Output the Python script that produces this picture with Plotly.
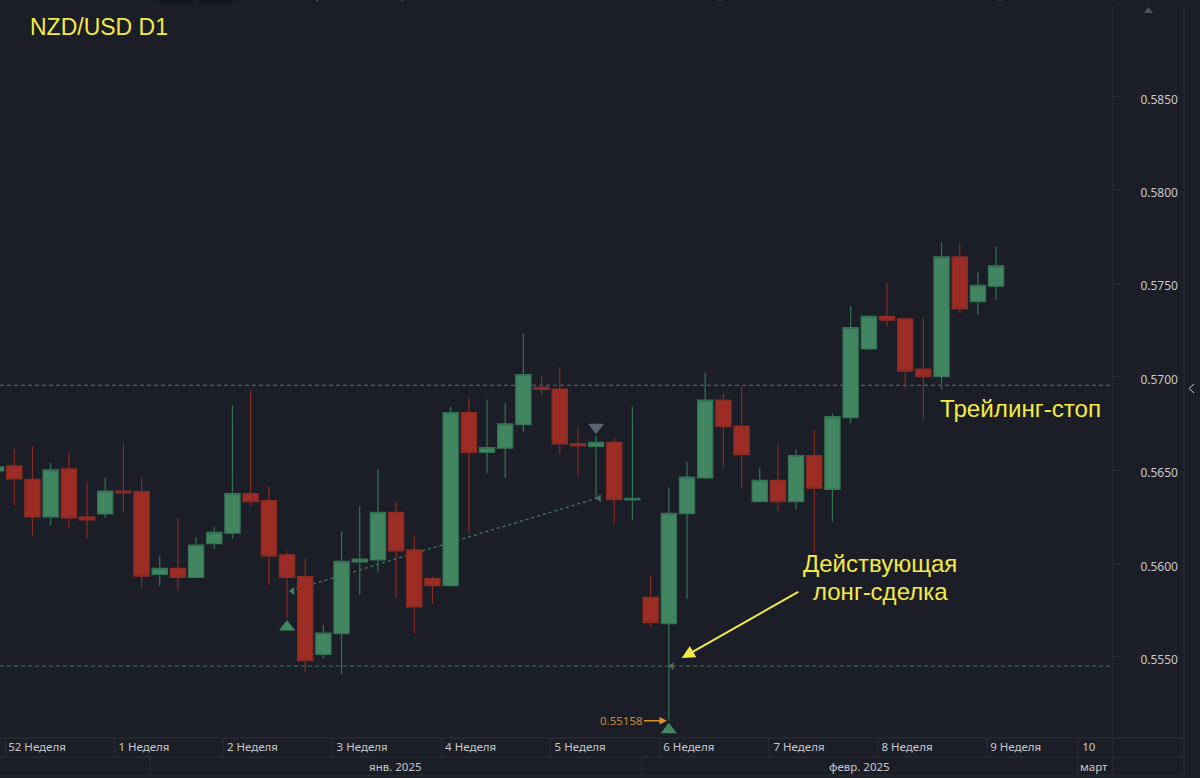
import plotly.graph_objects as go

# NZD/USD daily candles
candle_index = list(range(56))
open_prices = [
    0.56495, 0.56522, 0.56451, 0.56249, 0.56506, 0.56249, 0.56265, 0.56388, 0.56385, 0.55942,
    0.55974, 0.55925, 0.56106, 0.56162, 0.56374, 0.56337, 0.56046, 0.55930, 0.55514, 0.55625,
    0.56008, 0.56019, 0.56274, 0.56073, 0.55919, 0.55882, 0.56808, 0.56595, 0.56617, 0.56743,
    0.56943, 0.56934, 0.56642, 0.56627, 0.56649, 0.56340, 0.55819, 0.55678, 0.56267, 0.56458,
    0.56874, 0.56736, 0.56331, 0.56445, 0.56331, 0.56578, 0.56397, 0.56781, 0.57148, 0.57323,
    0.57309, 0.57040, 0.57000, 0.57641, 0.57402, 0.57484,
]
high_prices = [
    0.56560, 0.56611, 0.56627, 0.56538, 0.56594, 0.56435, 0.56462, 0.56643, 0.56462, 0.56040,
    0.56244, 0.56139, 0.56199, 0.56847, 0.56924, 0.56413, 0.56067, 0.56028, 0.55671, 0.56172,
    0.56308, 0.56506, 0.56329, 0.56153, 0.55930, 0.56840, 0.56890, 0.56879, 0.56858, 0.57230,
    0.57009, 0.57050, 0.56726, 0.56683, 0.56676, 0.56840, 0.55935, 0.56408, 0.56544, 0.57022,
    0.56908, 0.56947, 0.56511, 0.56638, 0.56611, 0.56713, 0.56802, 0.57377, 0.57329, 0.57500,
    0.57318, 0.57318, 0.57719, 0.57712, 0.57559, 0.57696,
]
low_prices = [
    0.56440, 0.56310, 0.56149, 0.56205, 0.56194, 0.56133, 0.56244, 0.56276, 0.55869, 0.55880,
    0.55859, 0.55925, 0.56078, 0.56133, 0.56308, 0.55885, 0.55710, 0.55420, 0.55491, 0.55409,
    0.55832, 0.55957, 0.55816, 0.55625, 0.55787, 0.55875, 0.56162, 0.56485, 0.56458, 0.56704,
    0.56902, 0.56588, 0.56474, 0.56349, 0.56215, 0.56233, 0.55660, 0.55158, 0.55810, 0.56451,
    0.56511, 0.56397, 0.56331, 0.56283, 0.56289, 0.56056, 0.56223, 0.56749, 0.57143, 0.57270,
    0.56936, 0.56770, 0.56931, 0.57341, 0.57330, 0.57412,
]
close_prices = [
    0.56517, 0.56453, 0.56249, 0.56501, 0.56244, 0.56233, 0.56387, 0.56378, 0.55932, 0.55974,
    0.55926, 0.56099, 0.56167, 0.56374, 0.56331, 0.56040, 0.55926, 0.55480, 0.55627, 0.56012,
    0.56023, 0.56274, 0.56067, 0.55768, 0.55882, 0.56808, 0.56595, 0.56620, 0.56747, 0.57011,
    0.56932, 0.56640, 0.56629, 0.56649, 0.56342, 0.56349, 0.55684, 0.56269, 0.56462, 0.56874,
    0.56733, 0.56583, 0.56445, 0.56331, 0.56578, 0.56403, 0.56786, 0.57263, 0.57323, 0.57302,
    0.57029, 0.57000, 0.57641, 0.57363, 0.57489, 0.57593,
]

price_ticks = [0.5850, 0.5800, 0.5750, 0.5700, 0.5650, 0.5600, 0.5550]
week_label_pos = [2.25, 8.13, 14.1, 20.13, 26.1, 32.12, 38.1, 44.16, 50.1, 56.08, 60.1]
week_labels = ['52 Неделя', '1 Неделя', '2 Неделя', '3 Неделя', '4 Неделя', '5 Неделя',
               '6 Неделя', '7 Неделя', '8 Неделя', '9 Неделя', '10']
week_edges = [0.5, 6.5, 12.5, 18.5, 24.5, 30.5, 36.5, 42.5, 48.5, 54.5, 59.5]
month_edges = [8.5, 35.5, 59.5]
month_label_pos = [21.99, 47.5, 60.4]
month_labels = ['янв. 2025', 'февр. 2025', 'март']

trailing_stop = 0.56954
long_entry = 0.55451
low_label = 0.55158
trade_x = [16.17, 33.04]
trade_y = [0.55853, 0.56349]

BG = '#1b1e26'
BORDER = '#2a2e37'
TEXT = '#c5c9cf'
YELLOW = '#f4ea46'
GREEN = '#418660'
RED = '#9b2d25'

PLOT_W = 1113
PLOT_H = 738


def px(x):
    return x / PLOT_W


def py(y):
    return (PLOT_H - y) / PLOT_H


fig = go.Figure()

fig.add_trace(go.Candlestick(
    x=candle_index, open=open_prices, high=high_prices, low=low_prices, close=close_prices,
    increasing=dict(fillcolor=GREEN, line=dict(color='#347255', width=1.2)),
    decreasing=dict(fillcolor=RED, line=dict(color='#8a2b24', width=1.2)),
    whiskerwidth=0, hoverinfo='skip', showlegend=False,
))

# entry / exit markers
fig.add_trace(go.Scatter(x=[16, 37], y=[0.55660, 0.55110], mode='markers', hoverinfo='skip', showlegend=False,
                         marker=dict(symbol='triangle-up', size=14, color=GREEN)))
fig.add_trace(go.Scatter(x=[33], y=[0.56729], mode='markers', hoverinfo='skip', showlegend=False,
                         marker=dict(symbol='triangle-down', size=14, color='#5b6476')))
fig.add_trace(go.Scatter(x=[16.3, 33.16, 37.16], y=[trade_y[0], trade_y[1], long_entry], mode='markers',
                         hoverinfo='skip', showlegend=False,
                         marker=dict(symbol='triangle-left', size=7, color=['#3f8060', '#566864', '#566864'])))

shapes = [
    dict(type='line', xref='paper', yref='y', x0=0, x1=1, y0=trailing_stop, y1=trailing_stop, layer='below',
         line=dict(color='#666c76', width=1, dash='4px,3px')),
    dict(type='line', xref='paper', yref='y', x0=0, x1=1, y0=long_entry, y1=long_entry, layer='below',
         line=dict(color='#37785a', width=1, dash='4px,3px')),
    dict(type='line', xref='x', yref='y', x0=trade_x[0], x1=trade_x[1], y0=trade_y[0], y1=trade_y[1], layer='below',
         line=dict(color='#3f7a5d', width=1.3, dash='3px,3px')),
]

# bottom strips and right panel borders
for y_line in [738, 757, 776]:
    shapes.append(dict(type='line', xref='paper', yref='paper', x0=0, x1=px(1184), y0=py(y_line), y1=py(y_line),
                       line=dict(color=BORDER, width=1)))
for x_line in [1113, 1184]:
    shapes.append(dict(type='line', xref='paper', yref='paper', x0=px(x_line), x1=px(x_line), y0=py(6), y1=py(776),
                       line=dict(color=BORDER, width=1)))
for edge in week_edges:
    shapes.append(dict(type='line', xref='x', yref='paper', x0=edge, x1=edge, y0=py(738), y1=py(757),
                       line=dict(color=BORDER, width=1)))
for edge in month_edges:
    shapes.append(dict(type='line', xref='x', yref='paper', x0=edge, x1=edge, y0=py(757), y1=py(776),
                       line=dict(color=BORDER, width=1)))

# small tabs on the top edge, scroll triangle, collapse chevron
for x0, x1 in [(159, 194), (198, 233)]:
    shapes.append(dict(type='rect', xref='paper', yref='paper', x0=px(x0), x1=px(x1), y0=py(3.5), y1=py(0),
                       fillcolor='#15171c', line=dict(width=0)))
for x_mark in [317, 402, 720, 1000]:
    shapes.append(dict(type='line', xref='paper', yref='paper', x0=px(x_mark), x1=px(x_mark), y0=py(1.5), y1=py(0),
                       line=dict(color='#6a6f78', width=1)))
shapes.append(dict(type='path', xref='paper', yref='paper', fillcolor='#4a5260', line=dict(width=0),
                   path=f'M {px(1144)} {py(13)} L {px(1153)} {py(13)} L {px(1148.5)} {py(7)} Z'))
shapes.append(dict(type='path', xref='paper', yref='paper', line=dict(color=TEXT, width=1),
                   path=f'M {px(1194)} {py(384)} L {px(1189)} {py(388.5)} L {px(1194)} {py(393)}'))

annotations = [
    dict(text='NZD/USD D1', xref='paper', yref='paper', x=px(28), y=py(27), xanchor='left', yanchor='middle',
         showarrow=False, font=dict(family='Liberation Sans', size=23, color=YELLOW)),
    dict(text='Трейлинг-стоп', xref='paper', yref='paper', x=px(938), y=py(408), xanchor='left', yanchor='middle',
         showarrow=False, font=dict(family='Liberation Sans', size=24.2, color=YELLOW)),
    dict(text='Действующая', xref='paper', yref='paper', x=px(880), y=py(563), xanchor='center', yanchor='middle',
         showarrow=False, font=dict(family='Liberation Sans', size=24, color=YELLOW)),
    dict(text='лонг-сделка', xref='paper', yref='paper', x=px(880), y=py(591), xanchor='center', yanchor='middle',
         showarrow=False, font=dict(family='Liberation Sans', size=24, color=YELLOW)),
    # arrow to the open long trade
    dict(text='', x=37.71, y=0.55494, ax=118, ay=-67, showarrow=True, arrowhead=2, arrowsize=1.3, arrowwidth=2,
         arrowcolor=YELLOW, standoff=0),
    # low of the week
    dict(text=str(low_label), x=36.9, y=low_label, ax=-46, ay=0, showarrow=True, arrowhead=2, arrowsize=1,
         arrowwidth=1.5, arrowcolor='#e08e2b', font=dict(family='Noto Sans', size=11.5, color='#c88a35')),
]
for pos, label in zip(month_label_pos, month_labels):
    annotations.append(dict(text=label, xref='x', yref='paper', x=pos, y=py(766.5), xanchor='center',
                            yanchor='middle', showarrow=False, font=dict(family='Noto Sans', size=11.5, color=TEXT)))

fig.update_layout(
    width=1200, height=778,
    margin=dict(l=0, r=87, t=0, b=40),
    paper_bgcolor=BG, plot_bgcolor=BG,
    showlegend=False, boxgap=0, boxgroupgap=0.16,
    shapes=shapes, annotations=annotations,
)
fig.update_xaxes(range=[0.2145, 61.43], rangeslider_visible=False, showgrid=False, zeroline=False, showline=False,
                 tickmode='array', tickvals=week_label_pos, ticktext=week_labels, ticks='',
                 tickfont=dict(family='Noto Sans', size=11.5, color=TEXT))
fig.update_yaxes(range=[0.55066, 0.59016], side='right', showgrid=False, zeroline=False, showline=False,
                 tickmode='array', tickvals=price_ticks, tickformat='.4f', ticks='outside', ticklen=6,
                 tickcolor=BORDER, ticklabelstandoff=18, ticklabelshift=3,
                 tickfont=dict(family='Noto Sans', size=12, color=TEXT))

# page margin off so the figure fills the window
fig.write_html("out.html", config=dict(displayModeBar=False),
               post_script="document.body.style.margin='0';document.body.style.background='#1b1e26';")
